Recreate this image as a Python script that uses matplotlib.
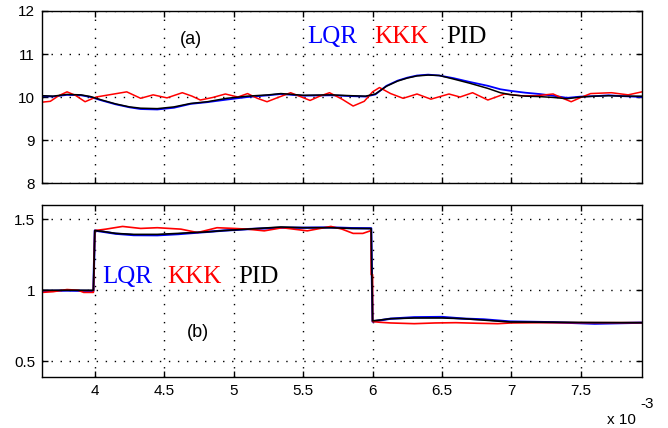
import matplotlib
matplotlib.use("Agg")
from matplotlib import pyplot as plt

# time axis in units of 1e-3 s
t_a = [3.62, 3.70, 3.80, 3.90, 3.97, 4.05, 4.15, 4.25, 4.33, 4.45, 4.57, 4.69,
       4.81, 4.95, 5.10, 5.25, 5.34, 5.50, 5.70, 5.85, 5.95, 6.02, 6.10, 6.18,
       6.25, 6.32, 6.40, 6.48, 6.58, 6.70, 6.83, 6.92, 7.00, 7.10, 7.20, 7.30,
       7.40, 7.50, 7.60, 7.70, 7.80, 7.94]
pid_a = [10.03, 10.02, 10.06, 10.05, 10.01, 9.93, 9.84, 9.77, 9.74, 9.73, 9.77, 9.85,
         9.89, 9.97, 10.02, 10.05, 10.08, 10.04, 10.05, 10.03, 10.02, 10.07, 10.25, 10.37,
         10.44, 10.49, 10.51, 10.50, 10.42, 10.32, 10.20, 10.10, 10.05, 10.02, 10.01, 9.99,
         9.96, 10.00, 10.02, 10.03, 10.02, 10.02]
lqr_a = [10.02, 10.01, 10.05, 10.04, 10.00, 9.92, 9.83, 9.76, 9.72, 9.71, 9.75, 9.84,
         9.88, 9.94, 10.00, 10.04, 10.07, 10.03, 10.04, 10.02, 10.01, 10.06, 10.26, 10.38,
         10.45, 10.50, 10.52, 10.50, 10.44, 10.35, 10.26, 10.18, 10.14, 10.10, 10.07, 10.03,
         9.98, 10.01, 10.02, 10.04, 10.02, 10.00]

t_ka = [3.62, 3.68, 3.74, 3.80, 3.86, 3.93, 4.01, 4.12, 4.23, 4.33, 4.42, 4.52, 4.63,
        4.70, 4.76, 4.85, 4.94, 5.03, 5.10, 5.17, 5.24, 5.32, 5.41, 5.48, 5.55, 5.62,
        5.69, 5.78, 5.86, 5.94, 6.00, 6.05, 6.13, 6.22, 6.32, 6.42, 6.55, 6.63, 6.72,
        6.83, 6.95, 7.07, 7.18, 7.30, 7.37, 7.43, 7.50, 7.57, 7.72, 7.84, 7.94]
kkk_a = [9.88, 9.90, 10.03, 10.12, 10.04, 9.89, 10.00, 10.06, 10.12, 9.97, 10.05, 9.98, 10.10,
         10.02, 9.93, 9.99, 10.07, 10.00, 10.08, 9.97, 9.89, 9.99, 10.10, 10.01, 9.92, 10.02,
         10.10, 9.95, 9.79, 9.90, 10.12, 10.22, 10.08, 9.97, 10.07, 9.95, 10.07, 10.00, 10.10,
         9.93, 10.07, 10.03, 10.03, 10.07, 9.97, 9.89, 9.99, 10.08, 10.10, 10.05, 10.12]

t_b = [3.62, 3.80, 3.99, 4.00, 4.05, 4.15, 4.28, 4.45, 4.60, 4.69, 4.80, 4.93, 5.10,
       5.34, 5.50, 5.70, 5.85, 5.99, 6.00, 6.05, 6.13, 6.30, 6.50, 6.66, 6.80, 6.99,
       7.30, 7.60, 7.94]
pid_b = [1.00, 1.00, 1.00, 1.42, 1.415, 1.40, 1.393, 1.393, 1.40, 1.405, 1.41, 1.42, 1.43,
         1.445, 1.44, 1.44, 1.435, 1.434, 0.785, 0.79, 0.80, 0.805, 0.805, 0.80, 0.79, 0.777,
         0.775, 0.773, 0.772]
lqr_b = [0.995, 0.998, 0.995, 1.42, 1.413, 1.398, 1.388, 1.387, 1.395, 1.402, 1.41, 1.42, 1.43,
         1.44, 1.44, 1.442, 1.437, 1.436, 0.78, 0.788, 0.80, 0.81, 0.812, 0.80, 0.795, 0.78,
         0.775, 0.765, 0.772]

t_kb = [3.62, 3.70, 3.80, 3.88, 3.92, 3.99, 4.00, 4.08, 4.20, 4.33, 4.45, 4.62, 4.74,
        4.88, 5.00, 5.10, 5.22, 5.35, 5.53, 5.70, 5.78, 5.86, 5.93, 5.99, 5.99, 6.00,
        6.00, 6.05, 6.13, 6.30, 6.45, 6.60, 6.75, 6.90, 7.00, 7.20, 7.50, 7.94]
kkk_b = [0.985, 0.99, 1.005, 1.00, 0.985, 0.985, 1.42, 1.43, 1.449, 1.435, 1.44, 1.43, 1.406,
         1.44, 1.435, 1.43, 1.418, 1.44, 1.418, 1.449, 1.43, 1.40, 1.40, 1.42, 1.11, 1.11,
         0.78, 0.775, 0.77, 0.765, 0.77, 0.772, 0.768, 0.765, 0.77, 0.772, 0.772, 0.772]

x_ticks = [4, 4.5, 5, 5.5, 6, 6.5, 7, 7.5]
x_labels = ["4", "4.5", "5", "5.5", "6", "6.5", "7", "7.5"]
ya_ticks = [8, 9, 10, 11, 12]
ya_labels = ["8", "9", "10", "11", "12"]
yb_ticks = [0.5, 1, 1.5]
yb_labels = ["0.5", "1", "1.5"]

plt.rcParams["font.family"] = "Liberation Sans"

fig = plt.figure(figsize=(6.68, 4.28), dpi=100)
ax0 = fig.add_axes([0.0629, 0.5724, 0.8982, 0.4019])
ax1 = fig.add_axes([0.0629, 0.1192, 0.8982, 0.4019])

ax0.plot(t_a, lqr_a, color="blue", lw=1.3)
ax0.plot(t_ka, kkk_a, color="red", lw=1.1)
ax0.plot(t_a, pid_a, color="black", lw=1.1)

ax1.plot(t_b, lqr_b, color="blue", lw=1.6)
ax1.plot(t_kb, kkk_b, color="red", lw=1.2)
ax1.plot(t_b, pid_b, color="black", lw=1.2)

for ax in (ax0, ax1):
    ax.set_xlim(3.62, 7.94)
    ax.set_xticks(x_ticks)
    ax.grid(True, color="black", ls=(0, (1, 5.5)), lw=1.0)
    ax.tick_params(direction="in", top=True, right=True, length=4, width=1,
                   labelsize=11, colors="black", pad=5)
    for s in ax.spines.values():
        s.set_linewidth(1.0)

ax0.set_ylim(8, 12)
ax0.set_yticks(ya_ticks)
ax0.set_yticklabels(ya_labels)
ax0.set_xticklabels([])

ax1.set_ylim(0.39, 1.6)
ax1.set_yticks(yb_ticks)
ax1.set_yticklabels(yb_labels)
ax1.set_xticklabels(x_labels)

leg_font = dict(family="Liberation Serif", fontsize=18)
ax0.text(4.69, 11.33, "(a)", fontsize=13, ha="center", va="center")
ax0.text(5.53, 11.4, "LQR", color="blue", va="center", **leg_font)
ax0.text(6.01, 11.4, "KKK", color="red", va="center", **leg_font)
ax0.text(6.53, 11.4, "PID", color="black", va="center", **leg_font)

ax1.text(4.74, 0.70, "(b)", fontsize=13, ha="center", va="center")
ax1.text(4.05, 1.09, "LQR", color="blue", va="center", **leg_font)
ax1.text(4.52, 1.09, "KKK", color="red", va="center", **leg_font)
ax1.text(5.03, 1.09, "PID", color="black", va="center", **leg_font)

fig.text(0.908, 0.01, "x 10", fontsize=11)
fig.text(0.958, 0.046, "-3", fontsize=11)

fig.savefig("out.png", dpi=100)
